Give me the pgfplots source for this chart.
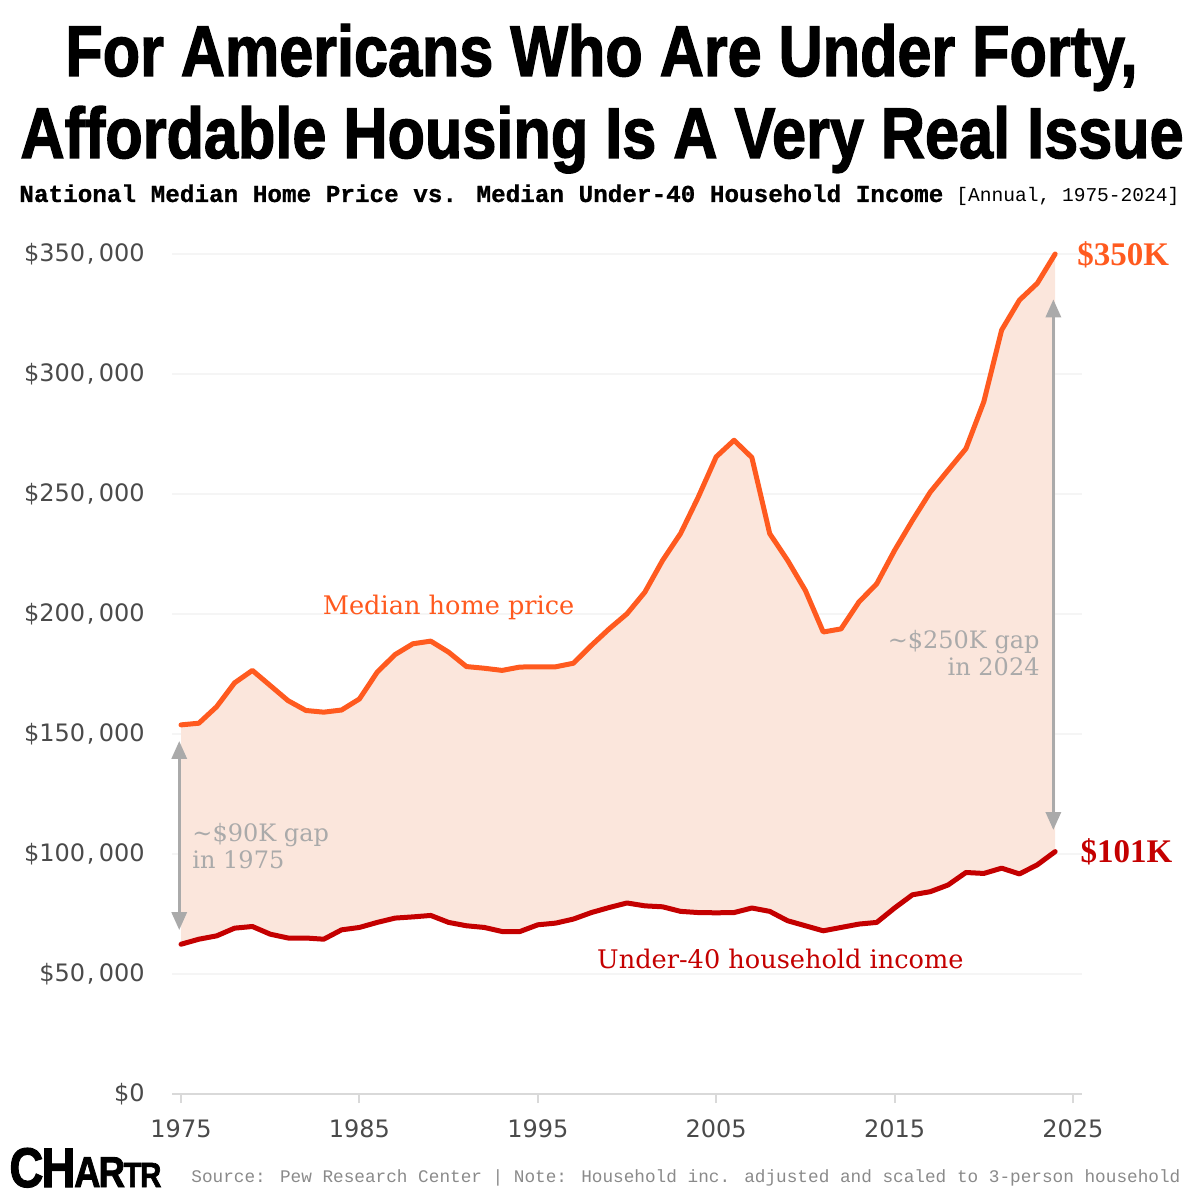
\documentclass[border=0pt]{standalone}
\usepackage{fontspec}
\setmainfont{DejaVu Sans}
\newfontfamily\titlefont{Liberation Sans}[BoldFeatures={FakeBold=2}]
\newfontfamily\monofont{Liberation Mono}[BoldFeatures={FakeBold=0.8}]
\newfontfamily\serifA{DejaVu Serif}
\newfontfamily\serifB{Liberation Serif}
\usepackage{graphicx}
\usepackage{pgfplots}
\usepackage{pgfplotstable}
\pgfplotsset{compat=1.18}
\usetikzlibrary{arrows.meta}

\definecolor{homec}{HTML}{FF5A1F}
\definecolor{incc}{HTML}{C40000}
\definecolor{fillc}{HTML}{FBE6DC}
\definecolor{annc}{HTML}{AAAAAA}
\definecolor{tickc}{HTML}{4A4A4A}
\definecolor{srcc}{HTML}{8A8A8A}

\pgfplotstableread{
year home income
1975 153800 62400
1976 154500 64500
1977 161400 65900
1978 171300 69100
1979 176500 69800
1980 170200 66600
1981 163900 65000
1982 159800 65000
1983 159100 64500
1984 160000 68400
1985 164600 69400
1986 175800 71500
1987 183100 73300
1988 187600 73800
1989 188700 74400
1990 184100 71500
1991 178100 70100
1992 177400 69400
1993 176500 67700
1994 177900 67700
1995 178000 70500
1996 178000 71200
1997 179500 72900
1998 186900 75600
1999 193800 77700
2000 200100 79600
2001 209100 78400
2002 222400 78000
2003 233500 76100
2004 248800 75600
2005 265500 75500
2006 272400 75600
2007 265200 77500
2008 233500 76100
2009 222400 72200
2010 209800 70100
2011 192500 68000
2012 193800 69400
2013 205000 70800
2014 212600 71500
2015 226500 77500
2016 239000 83000
2017 250800 84300
2018 259900 87100
2019 268900 92300
2020 288400 91900
2021 318300 94100
2022 330800 91700
2023 337800 95500
2024 350000 101000
}\datatable

% gap area: home price forward, then income backward
\pgfplotstableread{
x y
1975 153800
1976 154500
1977 161400
1978 171300
1979 176500
1980 170200
1981 163900
1982 159800
1983 159100
1984 160000
1985 164600
1986 175800
1987 183100
1988 187600
1989 188700
1990 184100
1991 178100
1992 177400
1993 176500
1994 177900
1995 178000
1996 178000
1997 179500
1998 186900
1999 193800
2000 200100
2001 209100
2002 222400
2003 233500
2004 248800
2005 265500
2006 272400
2007 265200
2008 233500
2009 222400
2010 209800
2011 192500
2012 193800
2013 205000
2014 212600
2015 226500
2016 239000
2017 250800
2018 259900
2019 268900
2020 288400
2021 318300
2022 330800
2023 337800
2024 350000
2024 101000
2023 95500
2022 91700
2021 94100
2020 91900
2019 92300
2018 87100
2017 84300
2016 83000
2015 77500
2014 71500
2013 70800
2012 69400
2011 68000
2010 70100
2009 72200
2008 76100
2007 77500
2006 75600
2005 75500
2004 75600
2003 76100
2002 78000
2001 78400
2000 79600
1999 77700
1998 75600
1997 72900
1996 71200
1995 70500
1994 67700
1993 67700
1992 69400
1991 70100
1990 71500
1989 74400
1988 73800
1987 73300
1986 71500
1985 69400
1984 68400
1983 64500
1982 65000
1981 65000
1980 66600
1979 69800
1978 69100
1977 65900
1976 64500
1975 62400
}\areatable

\begin{document}
\begin{tikzpicture}[x=1pt,y=1pt]
\path[use as bounding box] (0,0) rectangle (599,598);

% Title
\node[anchor=base west, inner sep=0] at (32.5,560) {\resizebox{536pt}{26pt}{\titlefont\bfseries For Americans Who Are Under Forty,}};
\node[anchor=base west, inner sep=0] at (10,519) {\resizebox{581.5pt}{26pt}{\titlefont\bfseries Affordable Housing Is A Very Real Issue}};
% Subtitle
\node[anchor=base west, inner sep=0] at (9.5,497) {\resizebox{462pt}{!}{\monofont\bfseries National Median Home Price vs. Median Under-40 Household Income}};
\node[anchor=base west, inner sep=0] at (478,497) {\resizebox{111.5pt}{!}{\monofont [Annual, 1975-2024]}};

% Logo
\node[anchor=base west, inner sep=0] at (4.5,4.5) {\resizebox{76pt}{19.5pt}{\titlefont\bfseries\fontsize{20}{20}\selectfont C\kern-0.8pt H\kern-0.6pt\fontsize{15.5}{15.5}\selectfont A\kern-0.8pt R\kern-0.6pt\fontsize{12.5}{12.5}\selectfont T\kern-0.6pt R}};
% Source
\node[anchor=base west, inner sep=0, text=srcc] at (95.5,7) {\resizebox{494.5pt}{!}{\monofont Source: Pew Research Center | Note: Household inc. adjusted and scaled to 3-person household}};

\begin{axis}[
  at={(86.05pt,51pt)}, anchor=south west,
  scale only axis, width=454.9pt, height=420pt,
  xmin=1974.5, xmax=2025.5, ymin=0, ymax=350000,
  clip=false,
  axis x line*=bottom, axis y line*=left,
  y axis line style={draw=none},
  x axis line style={draw=black!15, line width=1pt},
  xtick={1975,1985,...,2025},
  ytick={0,50000,...,350000},
  scaled y ticks=false,
  ymajorgrids,
  grid style={draw=black!4, line width=0.8pt},
  major x tick style={draw=black!15, line width=1pt},
  major y tick style={draw=none},
  tick align=outside,
  major tick length=4.5pt,
  /pgf/number format/assume math mode=true,
  xticklabel style={/pgf/number format/1000 sep={}, anchor=north, inner sep=0pt, yshift=-8pt, text=tickc, font=\fontsize{12}{12}\selectfont},
  yticklabel={\$\pgfmathprintnumber[fixed, precision=0, 1000 sep={\kern0.8pt,\kern2.2pt}]{\tick}},
  yticklabel style={anchor=east, inner sep=0pt, xshift=-9pt, text=tickc, font=\fontsize{12}{12}\selectfont},
]
\addplot[fill=fillc, draw=none, forget plot] table[x=x, y=y] {\areatable} -- cycle;

\draw[annc, line width=1.6pt, {Triangle[width=7.5pt,length=9pt]}-{Triangle[width=7.5pt,length=9pt]}] (axis cs:1974.9,147100) -- (axis cs:1974.9,68300);
\draw[annc, line width=1.6pt, {Triangle[width=7.5pt,length=9pt]}-{Triangle[width=7.5pt,length=9pt]}] (axis cs:2023.9,331100) -- (axis cs:2023.9,110000);

\addplot[homec, line width=2.5pt, line join=round, line cap=round] table[x=year, y=home] {\datatable};
\addplot[incc, line width=2.5pt, line join=round, line cap=round] table[x=year, y=income] {\datatable};

\node[text=homec, font=\serifA\fontsize{12.8}{12.8}\selectfont] at (axis cs:1990.0,202900) {Median home price};
\node[text=incc, font=\serifA\fontsize{12.8}{12.8}\selectfont] at (axis cs:2008.6,56250) {Under-40 household income};
\node[anchor=west, align=left, inner sep=0, text=annc, font=\serifA\fontsize{12}{13.5}\selectfont] at (axis cs:1975.62,103300) {\textasciitilde\$90K gap\\in 1975};
\node[anchor=east, align=right, inner sep=0, text=annc, font=\serifA\fontsize{12}{13.5}\selectfont] at (axis cs:2023.15,183750) {\textasciitilde\$250K gap\\in 2024};
\node[anchor=west, inner sep=0, text=homec, font=\serifB\bfseries\fontsize{16.5}{16.5}\selectfont] at (axis cs:2025.22,349600) {\$350K};
\node[anchor=west, inner sep=0, text=incc, font=\serifB\bfseries\fontsize{16.5}{16.5}\selectfont] at (axis cs:2025.4,100800) {\$101K};
\end{axis}
\end{tikzpicture}
\end{document}
